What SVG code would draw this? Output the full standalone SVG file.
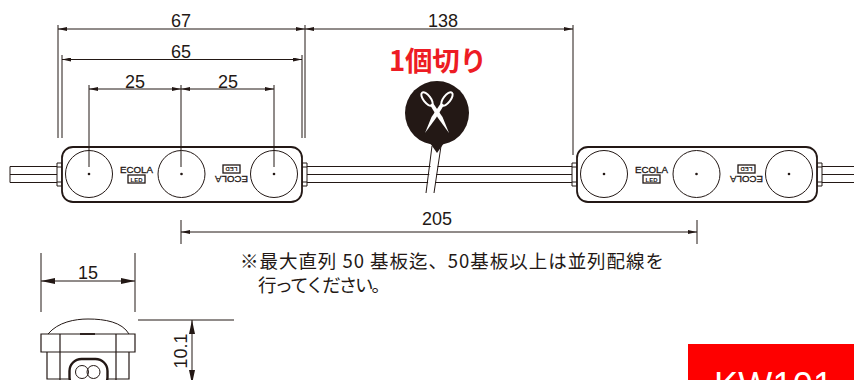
<svg xmlns="http://www.w3.org/2000/svg" width="854" height="380" viewBox="0 0 854 380">
<defs>
<marker id="a" viewBox="0 0 9 4" refX="9" refY="2" markerWidth="9" markerHeight="4" markerUnits="userSpaceOnUse" orient="auto-start-reverse"><path d="M0 0L9 2L0 4Z" fill="#231815"/></marker>
<marker id="b" viewBox="0 0 14 6" refX="14" refY="3" markerWidth="14" markerHeight="6" markerUnits="userSpaceOnUse" orient="auto-start-reverse"><path d="M0 0L14 3L0 6Z" fill="#231815"/></marker>
<g id="logo"><text x="74.500" y="25.500" class="logo" text-anchor="middle" textLength="33" lengthAdjust="spacingAndGlyphs">ECOLA</text><rect x="66" y="28" width="17" height="8" fill="none" stroke="#231815" stroke-width="1.300"/><text x="74.500" y="34.500" class="led" text-anchor="middle">LED</text></g>
<g id="module">
<path d="M-5 16H0V39H-5ZM240 16H245V39H240ZM-5 20H0M-5 35H0M240 20H245M240 35H245" class="ln"/>
<rect x="0" y="0" width="240" height="55" rx="11" fill="#fff" stroke="#231815" stroke-width="1.800"/>
<circle cx="27" cy="27" r="23.500" class="ln"/><circle cx="119.500" cy="27" r="23.500" class="ln"/><circle cx="212" cy="27" r="23.500" class="ln"/>
<circle cx="27" cy="27" r="1.300" fill="#231815"/><circle cx="119.500" cy="27" r="1.300" fill="#231815"/><circle cx="212" cy="27" r="1.300" fill="#231815"/>
<use href="#logo"/>
<use href="#logo" transform="rotate(180 122 27)"/>
</g>
</defs>
<style>
.ln{fill:none;stroke:#231815;stroke-width:1}
.dim{fill:none;stroke:#231815;stroke-width:1;marker-start:url(#a);marker-end:url(#a)}
.ext{fill:none;stroke:#231815;stroke-width:1}
.n{font-family:"Liberation Sans",Arial,sans-serif;font-size:18px;fill:#231815;text-anchor:middle}
.logo{font-family:"Liberation Sans",Arial,sans-serif;font-size:9px;fill:#231815;stroke:#231815;stroke-width:.3}
.led{font-family:"Liberation Sans",Arial,sans-serif;font-size:6px;font-weight:bold;fill:#231815}
.jp{font-family:"Noto Sans CJK JP",sans-serif;font-size:18.500px;fill:#231815}
</style>
<rect width="854" height="380" fill="#fff"/>
<g id="module-1"><use href="#module" x="62" y="147"/></g>
<g id="module-2"><use href="#module" x="577" y="147"/></g>
<g id="connectors">
<path class="ln" d="M57 166.500H10V182.500H57M10 174.500H57M307 166.500H572M307 182.500H572M307 174.500H572M822 166.500H854M822 182.500H854M822 174.500H854"/>
<path class="ext" d="M58 25V138M305 25V138M62 55V138M302 55V138M89 85V167M181 85V167M274 85V167M573 25V155M181 220V244M697 220V244M41 253V312M135 253V312M138 320H234"/>
<path class="dim" d="M58 29H305"/><path class="dim" d="M305 29H573"/><path class="dim" d="M62 59.500H302"/><path class="dim" d="M89 89H181"/><path class="dim" d="M181 89H274"/><path class="dim" d="M181 232H697"/>
<path d="M41 281H135" fill="none" stroke="#231815" stroke-width="1" marker-start="url(#b)" marker-end="url(#b)"/>
<path d="M192 320V384" fill="none" stroke="#231815" stroke-width="1" marker-start="url(#b)" marker-end="url(#b)"/>
</g>
<g id="cut-mark">
<path d="M433 150L427 190L434 190L440 150Z" fill="#fff"/>
<path d="M432 146L426 193M441 146L434 193" fill="none" stroke="#231815" stroke-width="1"/>
<circle cx="437" cy="113" r="32" fill="#231815"/>
<path d="M430 143H444L437 153Z" fill="#231815"/>
<g fill="#fff">
<path d="M430 105L433 103L442.500 117L449 133L438 118Z"/>
<path d="M444 105L441 103L431.500 117L425 133L436 118Z"/>
</g>
<g fill="none" stroke="#fff" stroke-width="2">
<ellipse cx="427" cy="99" rx="3.600" ry="8" transform="rotate(-38 427 99)"/>
<ellipse cx="447" cy="99" rx="3.600" ry="8" transform="rotate(38 447 99)"/>
</g>
</g>
<g id="dimensions" class="labels">
<text class="n" x="181" y="26.500">67</text><text class="n" x="443" y="26.500">138</text><text class="n" x="181" y="58">65</text><text class="n" x="135" y="88">25</text><text class="n" x="228" y="88">25</text><text class="n" x="437" y="225">205</text><text class="n" x="88" y="279">15</text>
<text class="n" transform="translate(187 351) rotate(-90)">10.1</text>
</g>
<text x="389" y="70.500" font-family="Noto Sans CJK JP,sans-serif" font-size="27.500" font-weight="700" fill="#ed1c24" textLength="98">1個切り</text>
<text class="jp" x="240" y="268" textLength="424">※最大直列 50 基板迄、50基板以上は並列配線を</text>
<text class="jp" x="258" y="292" textLength="132">行ってください。</text>
<g id="end-view">
<path d="M48 334C58 322 75 319 88 319C105 319 122 322 129 334" class="ln"/>
<path d="M41 334H135V352H41ZM60 334V380M116 334V380M47 352V379H69M129 352V379H107" fill="none" stroke="#231815" stroke-width="1.200"/>
<path d="M80 334H95" stroke="#231815" stroke-width="1.800"/>
<rect x="69.500" y="359" width="38" height="30" rx="12" fill="#fff" stroke="#231815" stroke-width="2.400"/>
<circle cx="82" cy="372" r="6.500" class="ln"/><circle cx="93.500" cy="372" r="6.500" class="ln"/>
</g>
<rect x="688" y="344" width="166" height="36" fill="#fe0000"/>
<text x="714" y="398" font-family="Liberation Sans,Arial,sans-serif" font-size="36" fill="#fff" textLength="119">KW101</text>
</svg>
